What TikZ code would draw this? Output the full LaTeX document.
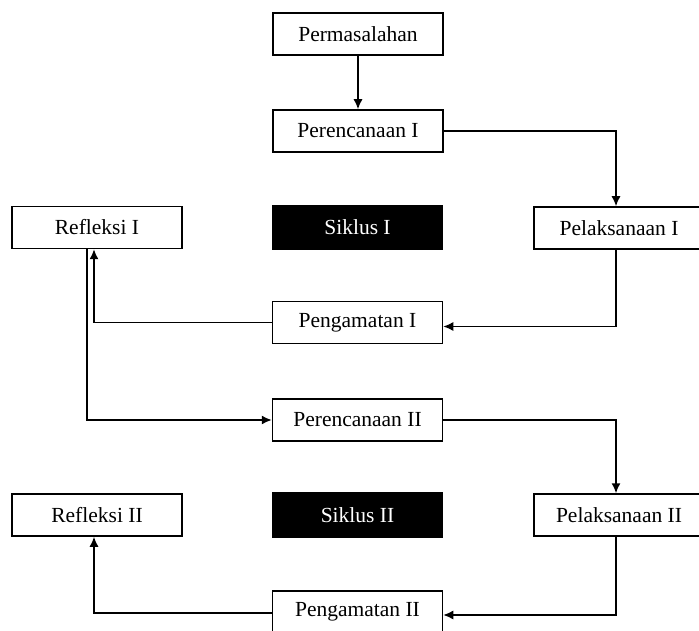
\documentclass[tikz,border=0pt]{standalone}
\usepackage{fontspec}
\setmainfont{Liberation Serif}
\usetikzlibrary{arrows.meta}
\begin{document}
\begin{tikzpicture}[x=1pt,y=-1pt,
  box/.style={draw=black,line width=1.5pt,fill=white,minimum width=170pt,minimum height=42pt,inner sep=0pt,
    font=\fontsize{21.5}{24}\selectfont},
  cyc/.style={box,fill=black,text=white,minimum height=44pt},
  conn/.style={line width=1.5pt,-{Latex[length=10pt,width=9pt]}}]
\useasboundingbox (0,0) rectangle (699,631);
\clip (0,0) rectangle (699,631);
\node[box] (perm) at (358,34) {Permasalahan};
\node[box] (per1) at (358,131) {Perencanaan I};
\node[box] (ref1) at (97,227.5) {Refleksi I};
\node[cyc] (sik1) at (357.5,227.5) {Siklus I};
\node[box] (pel1) at (619,228) {Pelaksanaan I};
\node[box] (peng1) at (357.5,322.5) {Pengamatan I};
\node[box] (per2) at (357.5,420) {Perencanaan II};
\node[cyc] (sik2) at (357.5,515) {Siklus II};
\node[box] (ref2) at (97,515) {Refleksi II};
\node[box] (pel2) at (619,515) {Pelaksanaan II};
\node[box] (peng2) at (357.5,612) {Pengamatan II};
\coordinate (rc) at (616,0);
\coordinate (la) at (94,0);
\coordinate (lb) at (87,0);
\draw[conn] (perm.south) -- (per1.north);
\draw[conn] (per1.east) -| (rc |- pel1.north);
\draw[conn] (rc |- pel1.south) |- ([yshift=-4pt]peng1.east);
\draw[conn] (peng1.west) -| (la |- ref1.south);
\draw[conn] (lb |- ref1.south) |- (per2.west);
\draw[conn] (per2.east) -| (rc |- pel2.north);
\draw[conn] (rc |- pel2.south) |- ([yshift=-3pt]peng2.east);
\draw[conn] ([yshift=-1pt]peng2.west) -| (la |- ref2.south);
\end{tikzpicture}
\end{document}
